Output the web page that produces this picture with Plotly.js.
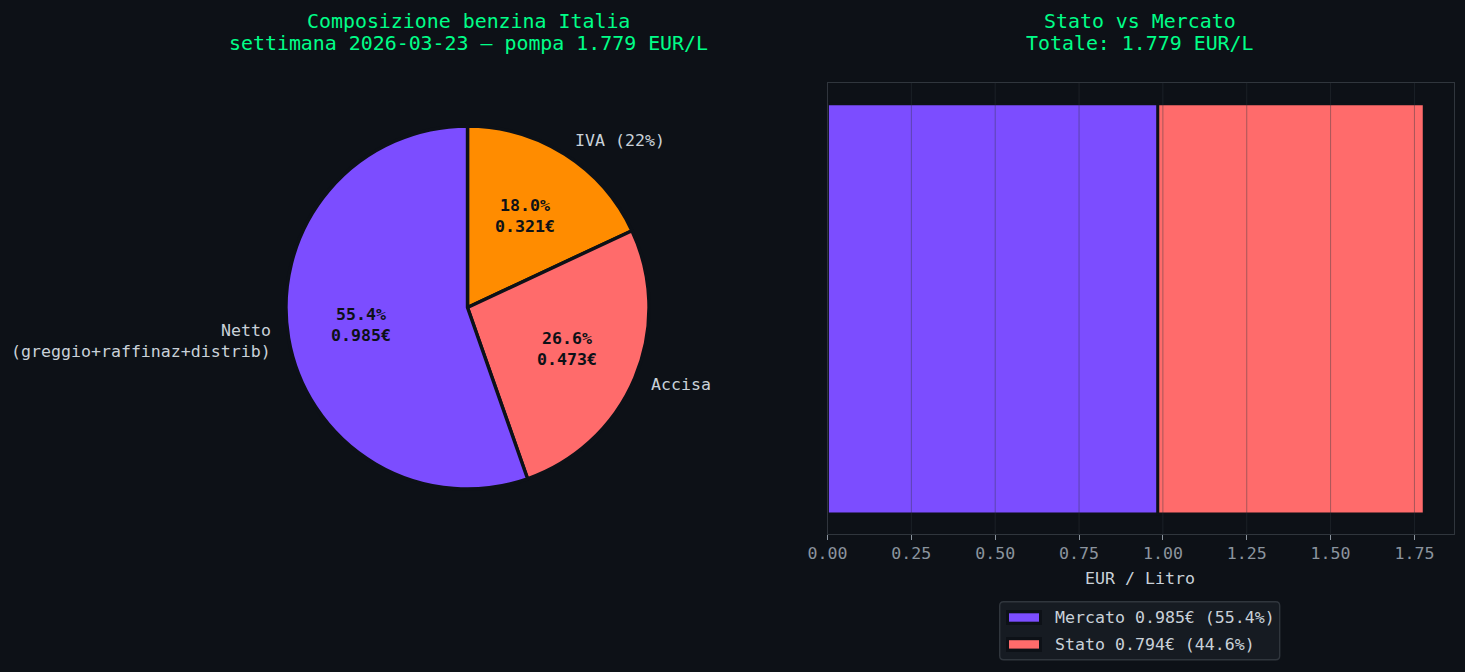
<!DOCTYPE html>
<html><head><meta charset="utf-8">
<script src="https://cdn.plot.ly/plotly-3.0.1.min.js"></script>
<style>html,body{margin:0;padding:0;background:#0d1117}#c{width:1465px;height:672px}</style>
</head><body><div id="c"></div>
<script>
const pieLabels = ['IVA (22%)', 'Accisa', 'Netto\n(greggio+raffinaz+distrib)'];
const pieValues = [0.321, 0.473, 0.985];
const pieColors = ['#ff8c00', '#ff6b6b', '#7c4dff'];
const barNames = ['Mercato', 'Stato'];
const barValues = [0.985, 0.794];
const barColors = ['#7c4dff', '#ff6b6b'];
const xTicks = [0, 0.25, 0.5, 0.75, 1, 1.25, 1.5, 1.75];
const total = 1.779;

const W = 1465, H = 672, BG = '#0d1117', MONO = '"DejaVu Sans Mono", monospace';
const px = x => x / W, py = y => 1 - y / H;
const cx = 467.5, cy = 307.5, R = 180, DR = 181.5;
const sum = pieValues.reduce((a, b) => a + b, 0);
const pct = v => (100 * v / sum).toFixed(1);

const anns = [];
const txt = (x, y, text, size, color, anchor, bold) => anns.push({
  xref: 'paper', yref: 'paper', x: px(x), y: py(y), text: bold ? '<b>' + text + '</b>' : text,
  showarrow: false, xanchor: anchor || 'center', yanchor: 'middle', align: anchor || 'center',
  font: {family: MONO, size, color}, borderpad: 0
});
const multi = (x, y, lines, size, color, anchor, bold) => lines.forEach((l, i) =>
  txt(x, y + (i - (lines.length - 1) / 2) * 20.5, l, size, color, anchor, bold));

txt(468, 21, 'Composizione benzina Italia', 19.9, '#00ff88');
txt(468, 43, 'settimana 2026-03-23 — pompa ' + total.toFixed(3) + ' EUR/L', 19.9, '#00ff88');
txt(1140, 21, 'Stato vs Mercato', 19.9, '#00ff88');
txt(1140, 43, 'Totale: ' + total.toFixed(3) + ' EUR/L', 19.9, '#00ff88');
txt(1140, 578, 'EUR / Litro', 16.6, '#c9d1d9');

let acc = 0;
pieValues.forEach((v, i) => {
  const a = 2 * Math.PI * (acc + v / 2) / sum; acc += v;
  const s = Math.sin(a), c = Math.cos(a);
  multi(cx + 0.6 * R * s, cy - 0.6 * R * c - 0.5, [pct(v) + '%', v.toFixed(3) + '€'], 16.6, BG, 'center', true);
  multi(cx + 1.1 * R * s, cy - 1.1 * R * c + 0.5, pieLabels[i].split('\n'), 16.6, '#c9d1d9', s > 0 ? 'left' : 'right');
});

const traces = [{
  type: 'pie', labels: pieLabels, values: pieValues, sort: false, direction: 'clockwise', rotation: 0,
  marker: {colors: pieColors, line: {color: BG, width: 3.4}}, textinfo: 'none', showlegend: false, hoverinfo: 'label+value',
  domain: {x: [px(cx - DR), px(cx + DR)], y: [py(cy + DR), py(cy - DR)]}
}];
let base = 0;
barValues.forEach((v, i) => {
  traces.push({type: 'bar', orientation: 'h', y: [0], x: [v], base: base, width: 0.909, name: barNames[i],
    marker: {color: barColors[i], line: {color: BG, width: 2.8}}, showlegend: false, xaxis: 'x', yaxis: 'y'});
  base += v;
});

const shapes = xTicks.map(t => ({type: 'line', layer: 'above', xref: 'x', yref: 'y domain', x0: t, x1: t, y0: 0, y1: 1,
  line: {color: 'rgba(48,54,61,0.42)', width: 1}}));

// legend box, swatches and entries
const LX0 = 999.7, LX1 = 1279.7, LY0 = 601.8, LY1 = 659.8, r = 4;
const X = px, Y = py;
shapes.push({type: 'path', layer: 'above', xref: 'paper', yref: 'paper', fillcolor: '#161b22', line: {color: '#30363d', width: 1.4},
  path: `M${X(LX0 + r)},${Y(LY0)} L${X(LX1 - r)},${Y(LY0)} Q${X(LX1)},${Y(LY0)} ${X(LX1)},${Y(LY0 + r)} L${X(LX1)},${Y(LY1 - r)} Q${X(LX1)},${Y(LY1)} ${X(LX1 - r)},${Y(LY1)} L${X(LX0 + r)},${Y(LY1)} Q${X(LX0)},${Y(LY1)} ${X(LX0)},${Y(LY1 - r)} L${X(LX0)},${Y(LY0 + r)} Q${X(LX0)},${Y(LY0)} ${X(LX0 + r)},${Y(LY0)} Z`});
barValues.forEach((v, i) => {
  const yc = 617.5 + i * 26.9;
  shapes.push({type: 'rect', layer: 'above', xref: 'paper', yref: 'paper', x0: X(1006), x1: X(1042), y0: Y(yc + 7.5), y1: Y(yc - 7.5),
    fillcolor: BG, line: {width: 0}});
  shapes.push({type: 'rect', layer: 'above', xref: 'paper', yref: 'paper', x0: X(1009), x1: X(1039), y0: Y(yc + 4.2), y1: Y(yc - 4.2),
    fillcolor: barColors[i], line: {width: 0}});
  txt(1054, yc, barNames[i] + ' ' + v.toFixed(3) + '€ (' + (100 * v / total).toFixed(1) + '%)', 16.6, '#c9d1d9', 'left');
});

const layout = {
  width: W, height: H, paper_bgcolor: BG, plot_bgcolor: BG, margin: {l: 0, r: 0, t: 0, b: 0},
  font: {family: MONO, color: '#c9d1d9'}, barmode: 'overlay', shapes: shapes, annotations: anns, hovermode: false, showlegend: false,
  xaxis: {domain: [px(827.5), px(1454)], range: [0, total * 1.05], tickvals: xTicks, ticktext: xTicks.map(t => t.toFixed(2)),
    tickfont: {family: MONO, size: 16.6, color: '#8b949e'}, ticks: 'outside', ticklen: 5, tickcolor: '#8b949e', tickwidth: 1, ticklabelstandoff: -1,
    showgrid: false, zeroline: false, showline: true, linecolor: '#30363d', linewidth: 1.4, mirror: true},
  yaxis: {domain: [py(533.9), py(82.9)], range: [-0.499, 0.501], showticklabels: false, ticks: '', showgrid: false, zeroline: false,
    showline: true, linecolor: '#30363d', linewidth: 1.4, mirror: true}
};
Plotly.newPlot('c', traces, layout, {displayModeBar: false, responsive: false});
</script></body></html>
